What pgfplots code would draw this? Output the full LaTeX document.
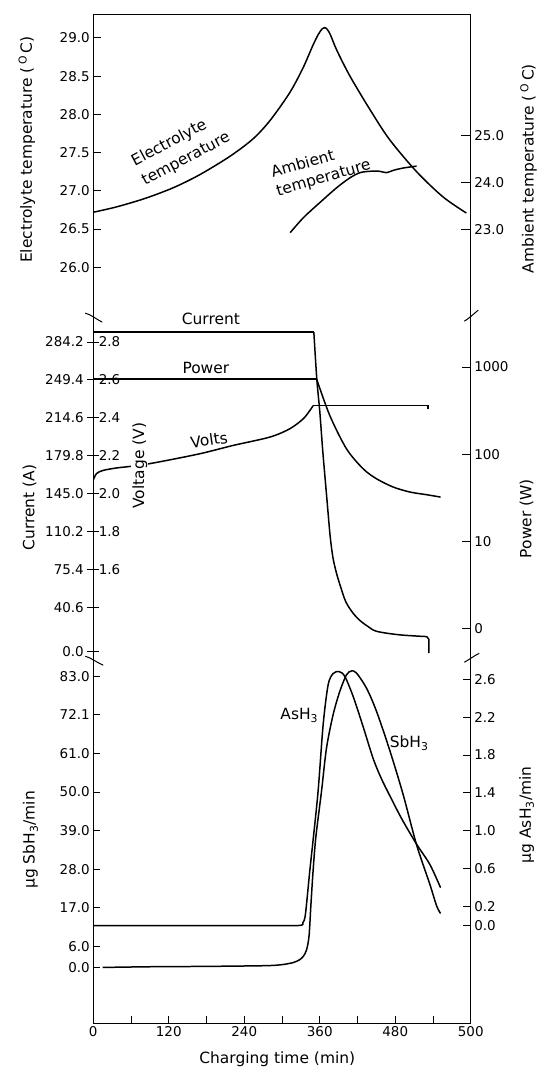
\documentclass[border=0pt]{standalone}
\usepackage{pgfplots}
\pgfplotsset{compat=1.18}
\usepackage{fontspec}
\setmainfont{DejaVu Sans}
\newcommand{\lab}{\fontsize{15.5}{18}\selectfont}
\newcommand{\tlab}{\fontsize{13.5}{16}\selectfont}
\pgfplotsset{
  every non boxed x axis/.append style={x axis line style=-},
  every non boxed y axis/.append style={y axis line style=-},
  base/.style={scale only axis, width=378.5pt, xmin=0, xmax=600,
    axis line style={-, line width=1pt, black},
    every tick/.style={line width=0.9pt, black},
    tick label style={font=\tlab, black},
    clip mode=individual,
  },
  curve/.style={black, line width=1.5pt, no markers},
}
\begin{document}
\begin{tikzpicture}
\path (-93.5pt,15pt) rectangle (444.5pt,-1055pt);
% ---------------- top panel: electrolyte temperature
\begin{axis}[base, at={(0pt,0pt)}, anchor=north west, height=302pt,
  ymin=25.361, ymax=29.30,
  axis x line*=top, axis y line*=left, xtick=\empty,
  ytick={26,26.5,27,27.5,28,28.5,29},
  yticklabels={26.0,26.5,27.0,27.5,28.0,28.5,29.0},
  tick align=inside, major tick length=8pt]
\addplot[curve, smooth, tension=0.5] coordinates {
(0,26.72) (37,26.79) (82,26.90) (127,27.04) (169,27.21) (217,27.45) (254,27.68)
(281,27.92) (312,28.28) (333,28.60) (349,28.90) (358,29.05) (364,29.12) (368,29.135)
(372,29.11) (377,29.04) (387,28.84) (408,28.50) (440,28.06) (471,27.67) (514,27.25)
(556,26.92) (593,26.71)};
\node[font=\fontsize{15.5}{22}\selectfont, rotate=28, align=left] at (axis cs:139.4,27.54) {Electrolyte\\temperature};
\node[font=\fontsize{15.5}{19}\selectfont, rotate=16, align=left] at (axis cs:362,27.28) {Ambient\\temperature};
\end{axis}
% ---------------- top panel: ambient temperature (right)
\begin{axis}[base, at={(0pt,0pt)}, anchor=north west, height=302pt,
  ymin=21.149, ymax=27.574,
  axis x line=none, axis y line*=right,
  ytick={23,24,25}, yticklabels={23.0,24.0,25.0},
  tick align=inside, major tick length=10pt]
\addplot[curve, smooth, tension=0.5] coordinates {
(313,22.93) (334,23.25) (360,23.57) (387,23.89) (408,24.10) (424,24.21) (440,24.24)
(455,24.24) (466,24.21) (477,24.26) (493,24.31) (514,24.35)};
\end{axis}
% ---------------- middle panel: current (left)
\begin{axis}[base, at={(0pt,-302pt)}, anchor=north west, height=344pt,
  ymin=-7.33, ymax=308.0,
  axis x line=none, axis y line*=left,
  ytick={0,40.6,75.4,110.2,145,179.8,214.6,249.4,284.2},
  yticklabels={0.0,40.6,75.4,110.2,145.0,179.8,214.6,249.4,284.2},
  tick align=center, major tick length=12pt]
\addplot[curve] coordinates {(0,293.4) (350.6,293.4)};
\addplot[curve, smooth, tension=0.5] coordinates {
(350.6,293.4) (355.3,250.3) (360.1,220.0) (364.9,183.3) (371.3,140.3) (376.5,106.0)
(381.0,86.0) (386.5,72.0) (393.0,59.5) (401.4,45.5) (412.6,35.3) (423.7,28.4) (436.4,22.9)
(450.7,18.3) (487.3,15.1) (530.2,13.5)};
\addplot[curve] coordinates {(530.2,13.5) (533.4,11.0) (533.4,-1.8)};
\node[font=\lab] at (axis cs:187,305.3) {Current};
\node[font=\lab] at (axis cs:179,260.4) {Power};
\node[font=\lab, rotate=8] at (axis cs:184,194.4) {Volts};
\end{axis}
% ---------------- middle panel: voltage (left, inner labels)
\begin{axis}[base, at={(0pt,-302pt)}, anchor=north west, height=344pt,
  ymin=1.12454, ymax=2.93678,
  axis x line=none, axis y line*=left,
  ytick={1.6,1.8,2.0,2.2,2.4,2.6,2.8},
  yticklabels={1.6,1.8,2.0,2.2,2.4,2.6,2.8},
  major tick length=0pt,
  yticklabel style={anchor=west, xshift=2pt}]
\addplot[curve, smooth, tension=0.5] coordinates {
(0,2.070) (5.1,2.105) (15.6,2.122) (36.9,2.135) (58.0,2.143) (95.1,2.161) (169.3,2.210)
(222.3,2.254) (280.6,2.298) (312.4,2.342) (333.5,2.394) (344.2,2.438) (349.4,2.464)};
\addplot[curve] coordinates {(349.4,2.464) (532.3,2.464) (532.3,2.447)};
\node[font=\lab, rotate=90, fill=white, inner sep=1pt] at (axis cs:74,2.147) {Voltage (V)};
\end{axis}
% ---------------- middle panel: power (right, log)
\begin{axis}[base, at={(0pt,-302pt)}, anchor=north west, height=344pt,
  ymode=log, ymin=0.4406, ymax=3837, yminorticks=false,
  axis x line=none, axis y line*=right,
  ytick={1,10,100,1000}, yticklabels={0,10,100,1000},
  tick align=inside, major tick length=9pt]
\addplot[curve] coordinates {(0,729) (355,729)};
\addplot[curve, smooth, tension=0.5] coordinates {
(355,729) (376,277) (402.5,115) (428.9,67.9) (450.2,52.1) (476.6,41.9) (503.2,36.7)
(529.7,34.2) (552,32.1)};
\end{axis}
% ---------------- bottom panel: SbH3 (left)
\begin{axis}[base, at={(0pt,-646pt)}, anchor=north west, height=365pt,
  ymin=-15.92, ymax=87.83,
  axis x line*=bottom, axis y line*=left,
  xtick={0,120,240,360,480,600}, xticklabels={0,120,240,360,480,500},
  minor xtick={60,180,300,420,540},
  ytick={0,6,17,28,39,50,61,72.1,83},
  yticklabels={0.0,6.0,17.0,28.0,39.0,50.0,61.0,72.1,83.0},
  tick align=inside, major tick length=7pt, minor tick length=7pt]
\addplot[curve, smooth, tension=0.5] coordinates {
(15,0.0) (92,0.2) (180,0.3) (273,0.5) (300,0.8) (318,1.4) (328,2.2) (334,3.2) (339,5.0)
(343,9.0) (346,18.0) (349.4,27.5) (353.7,37.0) (362.8,50.2) (370.7,62.5) (381.2,72.0)
(391.9,78.7) (402.5,83.4) (410.5,84.5) (418.4,83.9) (434.3,79.6) (450.2,73.0)
(471.4,61.8) (492.5,49.3) (513.8,35.0) (535,23.7) (545.6,17.6) (552,15.4)};
\node[font=\lab] at (axis cs:327.5,71.9) {AsH\textsubscript{3}};
\node[font=\lab] at (axis cs:502,63.9) {SbH\textsubscript{3}};
\end{axis}
% ---------------- bottom panel: AsH3 (right)
\begin{axis}[base, at={(0pt,-646pt)}, anchor=north west, height=365pt,
  ymin=-1.0316, ymax=2.8105,
  axis x line=none, axis y line*=right,
  ytick={0,0.2,0.6,1.0,1.4,1.8,2.2,2.6},
  yticklabels={0.0,0.2,0.6,1.0,1.4,1.8,2.2,2.6},
  tick align=inside, major tick length=8pt]
\addplot[curve, smooth, tension=0.5] coordinates {
(1,0.0) (120,0.0) (240,0.0) (325,0.0) (333,0.03) (336.3,0.08) (338.9,0.22) (344.2,0.58)
(349.4,0.90) (357.4,1.42) (365.4,2.12) (373.3,2.54) (381.3,2.66) (390.8,2.68)
(399.8,2.63) (413,2.42) (428.9,2.10) (445,1.76) (458,1.55) (471.4,1.37) (490,1.13)
(513.8,0.86) (535,0.645) (552,0.40)};
\end{axis}
% ---------------- axis labels
\node[font=\lab, rotate=90] at (-66.5pt,-135pt) {Electrolyte temperature (\,\textsuperscript{O}\,C)};
\node[font=\lab, rotate=90] at (-64pt,-494pt) {Current (A)};
\node[font=\lab, rotate=90] at (-63pt,-827pt) {μg SbH\textsubscript{3}/min};
\node[font=\lab, rotate=90] at (436.5pt,-154pt) {Ambient temperature (\,\textsuperscript{O}\,C)};
\node[font=\lab, rotate=90] at (434.5pt,-505pt) {Power (W)};
\node[font=\lab, rotate=90] at (434.5pt,-802pt) {μg AsH\textsubscript{3}/min};
\node[font=\lab] at (184.5pt,-1047pt) {Charging time (min)};
% ---------------- axis break marks
\begin{scope}[line width=1pt]
\draw (-8pt,-299pt) .. controls (-3pt,-300pt) and (3pt,-305pt) .. (9pt,-308pt);
\draw (-8pt,-643pt) .. controls (-3pt,-644pt) and (3pt,-649pt) .. (10pt,-652pt);
\draw (372pt,-307pt) .. controls (376pt,-305pt) and (381pt,-300pt) .. (386pt,-296pt);
\draw (372pt,-649pt) .. controls (376pt,-647pt) and (381pt,-643pt) .. (387pt,-640pt);
\end{scope}
\end{tikzpicture}
\end{document}
